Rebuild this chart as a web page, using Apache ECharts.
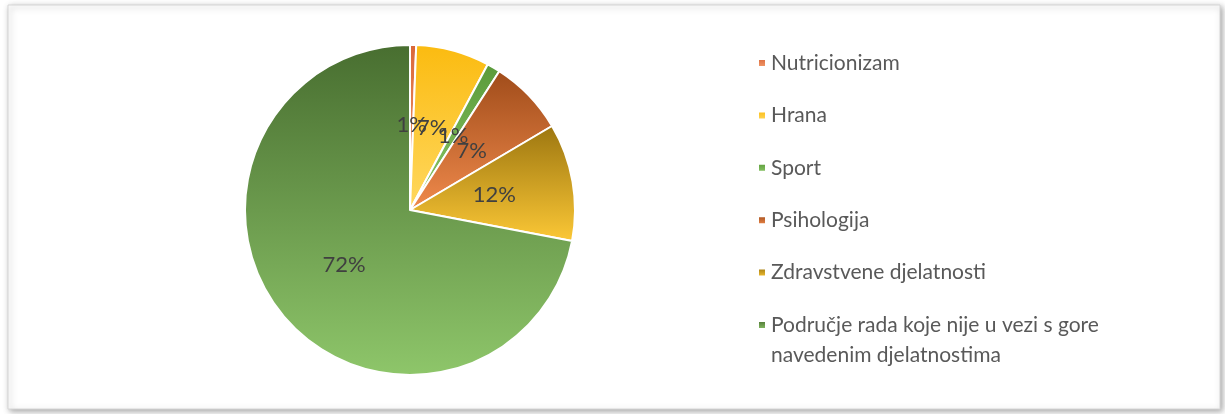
<!DOCTYPE html>
<html>
<head>
    <meta charset="utf-8">
    <title>ECharts</title>
    <script src="https://cdn.jsdelivr.net/npm/echarts@6/dist/echarts.min.js"></script>
</head>
<body style="margin:0;background:#fff;">
    <div id="main" style="width:1225px;height:414px;"></div>
    <script type="text/javascript">
        // podaci (postotci procijenjeni sa slike)
        var categories = ['Nutricionizam', 'Hrana', 'Sport', 'Psihologija',
            'Zdravstvene djelatnosti', 'Područje rada koje nije u vezi s gore navedenim djelatnostima'];
        var values = [0.6, 7.2, 1.3, 7.4, 11.5, 72.0];

        // gradijent za svaki isječak: gore tamnije, dolje svjetlije
        var gradients = [
            ['#d9673a', '#f4a070'],
            ['#fbbb10', '#ffd860'],
            ['#5a9a3a', '#8cc868'],
            ['#a04c1a', '#f08a4c'],
            ['#9c7610', '#fcc836'],
            ['#486e30', '#8ec66a']
        ];

        var myChart = echarts.init(document.getElementById('main'));

        var pieData = categories.map(function (name, i) {
            return {
                name: name,
                value: values[i],
                itemStyle: {
                    color: new echarts.graphic.LinearGradient(0, 0, 0, 1, [
                        {offset: 0, color: gradients[i][0]},
                        {offset: 1, color: gradients[i][1]}
                    ])
                }
            };
        });

        var lastName = categories[categories.length - 1];
        var NB = '\u00a0';

        myChart.setOption({
            backgroundColor: '#fff',
            graphic: [{
                type: 'rect',
                shape: {x: 8, y: 5, width: 1212, height: 404},
                style: {
                    fill: '#fff',
                    stroke: '#d6d6d6',
                    lineWidth: 1,
                    shadowBlur: 6,
                    shadowColor: 'rgba(0,0,0,0.35)',
                    shadowOffsetX: 2,
                    shadowOffsetY: 2
                },
                z: -10
            }],
            legend: {
                orient: 'vertical',
                left: 757,
                top: 18,
                height: 600,
                padding: 0,
                itemWidth: 8,
                itemHeight: 8,
                itemGap: -37.6,
                icon: 'rect',
                data: categories,
                // redak iznad (razmak): ikona ostaje uz prvi redak teksta
                formatter: function (name) {
                    return name === lastName ? NB + '\n' + name : NB + '\n' + name + '\n' + NB;
                },
                textStyle: {
                    fontFamily: 'Lato',
                    fontSize: 21,
                    color: '#595959',
                    lineHeight: 30,
                    width: 380,
                    overflow: 'break'
                }
            },
            series: [{
                type: 'pie',
                center: [410, 210],
                radius: 165,
                startAngle: 90,
                clockwise: true,
                avoidLabelOverlap: false,
                minShowLabelAngle: 0,
                label: {
                    show: true,
                    position: 'inside',
                    fontFamily: 'Lato',
                    fontSize: 22,
                    color: '#404040',
                    formatter: function (p) { return Math.round(p.percent) + '%'; }
                },
                labelLayout: {hideOverlap: false},
                labelLine: {show: false},
                itemStyle: {borderColor: '#fff', borderWidth: 2},
                emphasis: {disabled: true},
                data: pieData
            }]
        });
    </script>
</body>
</html>
